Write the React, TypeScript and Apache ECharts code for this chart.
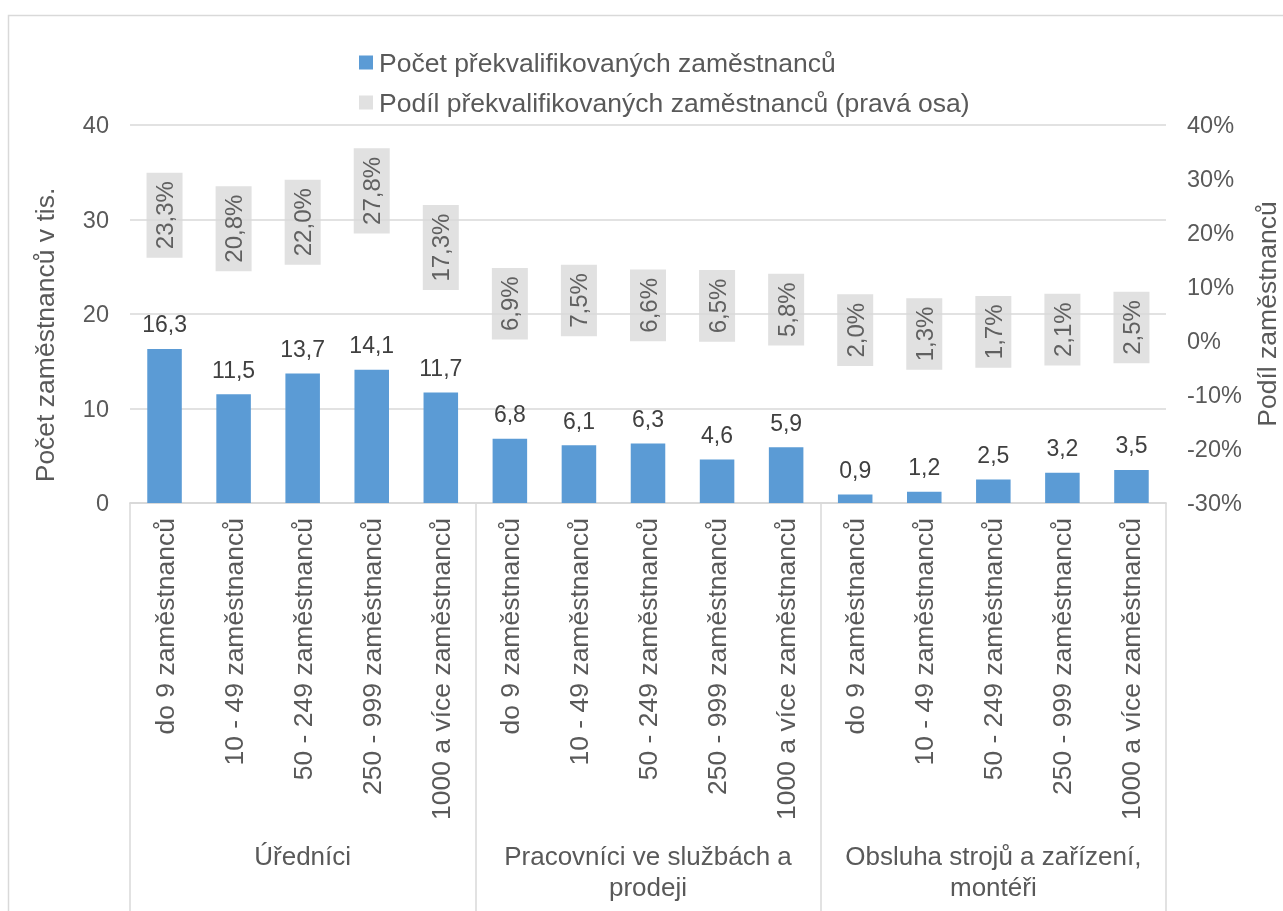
import React, { useEffect, useRef } from "react";
import * as echarts from "echarts";

const categories = [
  "do 9 zaměstnanců",
  "10 - 49 zaměstnanců",
  "50 - 249 zaměstnanců",
  "250 - 999 zaměstnanců",
  "1000 a více zaměstnanců",
  "do 9 zaměstnanců",
  "10 - 49 zaměstnanců",
  "50 - 249 zaměstnanců",
  "250 - 999 zaměstnanců",
  "1000 a více zaměstnanců",
  "do 9 zaměstnanců",
  "10 - 49 zaměstnanců",
  "50 - 249 zaměstnanců",
  "250 - 999 zaměstnanců",
  "1000 a více zaměstnanců",
];

const groups = [
  "Úředníci",
  "Pracovníci ve službách a\nprodeji",
  "Obsluha strojů a zařízení,\nmontéři",
];

const countValues = [16.3, 11.5, 13.7, 14.1, 11.7, 6.8, 6.1, 6.3, 4.6, 5.9, 0.9, 1.2, 2.5, 3.2, 3.5];
const shareValues = [23.3, 20.8, 22.0, 27.8, 17.3, 6.9, 7.5, 6.6, 6.5, 5.8, 2.0, 1.3, 1.7, 2.1, 2.5];

const leftTicks = { min: 0, max: 40, interval: 10 };
const rightTicks = { min: -30, max: 40, interval: 10 };

const seriesNames = [
  "Počet překvalifikovaných zaměstnanců",
  "Podíl překvalifikovaných zaměstnanců (pravá osa)",
];

const FONT = "'Liberation Sans', Arial, sans-serif";
const TXT = "#595959";
const GRID = "#d9d9d9";

const fmt = (v: number) => v.toFixed(1).replace(".", ",");

export default function App() {
  const ref = useRef<HTMLDivElement>(null);
  useEffect(() => {
    document.body.style.margin = "0";
    document.body.style.overflow = "hidden";
    document.documentElement.style.overflow = "hidden";
    const chart = echarts.init(ref.current!, null, { renderer: "svg" });
    chart.setOption({
      animation: false,
      textStyle: { fontFamily: FONT },
      graphic: [
        {
          type: "rect",
          shape: { x: 8.5, y: 15.5, width: 1400, height: 1000 },
          style: { fill: "none", stroke: GRID, lineWidth: 1.5 },
          silent: true,
        },
      ],
      legend: {
        orient: "vertical",
        left: 354,
        top: 44,
        itemWidth: 14,
        itemHeight: 14,
        itemGap: 13,
        icon: "rect",
        textStyle: { fontSize: 26.5, color: TXT, fontFamily: FONT, lineHeight: 26, padding: [0, 0, 0, 1] },
        data: [
          { name: seriesNames[0], itemStyle: { color: "#5b9bd5" } },
          { name: seriesNames[1], itemStyle: { color: "#d9d9d9" } },
        ],
      },
      grid: { left: 130, right: 117, top: 125, bottom: 408, outerBoundsMode: "none", containLabel: false },
      xAxis: [
        {
          type: "category",
          data: categories,
          position: "bottom",
          axisLine: { show: true, onZero: false, lineStyle: { color: GRID, width: 1.5 } },
          axisTick: { show: false },
          axisLabel: {
            rotate: 90,
            interval: 0,
            margin: 15,
            fontSize: 26.5,
            color: TXT,
            fontFamily: FONT,
          },
        },
        {
          type: "category",
          data: groups,
          position: "bottom",
          axisLine: { show: true, onZero: false, lineStyle: { color: GRID, width: 1.5 } },
          axisTick: { show: true, length: 420, lineStyle: { color: GRID, width: 1.5 } },
          axisLabel: {
            interval: 0,
            margin: 337,
            fontSize: 26,
            lineHeight: 31,
            color: TXT,
            fontFamily: FONT,
            align: "center",
          },
        },
      ],
      yAxis: [
        {
          type: "value",
          ...leftTicks,
          name: "Počet zaměstnanců v tis.",
          nameLocation: "middle",
          nameGap: 72,
          nameTextStyle: { fontSize: 26.5, color: TXT, fontFamily: FONT, padding: [0, 42, 0, 0] },
          axisLine: { show: false },
          axisTick: { show: false },
          axisLabel: { fontSize: 23.5, color: TXT, margin: 21, fontFamily: FONT },
          splitLine: { lineStyle: { color: GRID, width: 1.5 } },
        },
        {
          type: "value",
          ...rightTicks,
          position: "right",
          name: "Podíl zaměstnanců",
          nameLocation: "middle",
          nameGap: 87,
          nameRotate: 90,
          nameTextStyle: { fontSize: 26.5, color: TXT, fontFamily: FONT },
          axisLine: { show: false },
          axisTick: { show: false },
          axisLabel: {
            fontSize: 23.5,
            color: TXT,
            margin: 21,
            fontFamily: FONT,
            formatter: "{value}%",
          },
          splitLine: { show: false },
        },
      ],
      series: [
        {
          name: seriesNames[0],
          type: "bar",
          data: countValues,
          barWidth: "50%",
          itemStyle: { color: "#5b9bd5" },
          label: {
            show: true,
            position: "top",
            distance: 13,
            fontSize: 23,
            color: "#404040",
            fontFamily: FONT,
            formatter: (p: any) => fmt(p.value),
          },
        },
        {
          name: seriesNames[1],
          type: "scatter",
          yAxisIndex: 1,
          data: shareValues,
          symbolSize: 1,
          itemStyle: { color: "rgba(0,0,0,0)" },
          label: {
            show: true,
            position: "inside",
            rotate: 90,
            fontSize: 24,
            lineHeight: 24,
            color: "#404040",
            fontFamily: FONT,
            backgroundColor: "#d9d9d9",
            padding: [6, 8.5],
            formatter: (p: any) => fmt(p.value) + "%",
          },
        },
      ],
    });
    return () => chart.dispose();
  }, []);
  return (
    <div
      ref={ref}
      style={{ position: "fixed", left: 0, top: 0, width: 1283, height: 911 }}
    />
  );
}
